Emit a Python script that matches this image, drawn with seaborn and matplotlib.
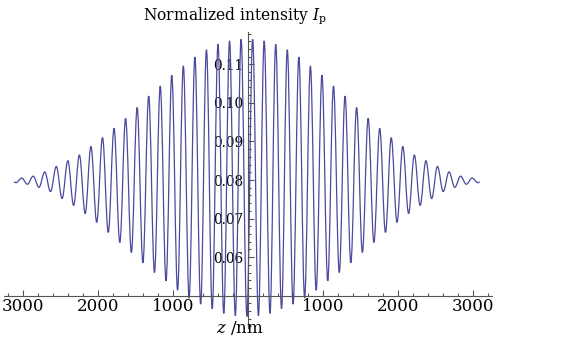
import matplotlib
matplotlib.use("Agg")
import matplotlib.pyplot as plt
import pandas as pd
import seaborn as sns
from matplotlib.ticker import MultipleLocator
from matplotlib.path import Path
from matplotlib.patches import PathPatch

# ---- data (right half, curve is mirror-symmetric about z_center) ----
z_center = -15  # nm, centre of symmetry of the pattern (a trough)
# positions of successive extrema relative to the centre (trough, then alternating peak / trough), nm
z_half = [0, 77, 154, 231, 308, 385, 462, 539, 616, 693, 770, 847, 924, 1001,
          1078, 1155, 1232, 1309, 1386, 1463, 1540, 1617, 1694, 1771, 1848, 1925,
          2002, 2079, 2156, 2233, 2310, 2387, 2464, 2541, 2618, 2695, 2772, 2849,
          2926, 3003, 3080, 3105]
# normalized intensity at those extrema
I_half = [0.0446, 0.1165, 0.0448, 0.1161, 0.0454, 0.1152, 0.0466, 0.1138, 0.0478,
          0.1119, 0.0494, 0.1096, 0.0514, 0.1072, 0.0538, 0.1044, 0.0560, 0.1018,
          0.0585, 0.0988, 0.0612, 0.0960, 0.0638, 0.0934, 0.0664, 0.0910, 0.0690,
          0.0887, 0.0713, 0.0865, 0.0734, 0.0850, 0.0752, 0.0835, 0.0770, 0.0821,
          0.0781, 0.0810, 0.0789, 0.0805, 0.0793, 0.0795]

x_ticks = [-3000, -2000, -1000, 1000, 2000, 3000]
x_tick_labels = ["3000", "2000", "1000", "1000", "2000", "3000"]
y_ticks = [0.06, 0.07, 0.08, 0.09, 0.10, 0.11]
y_tick_labels = ["0.06", "0.07", "0.08", "0.09", "0.10", "0.11"]

z_all = [z_center - v for v in reversed(z_half[1:])] + [z_center + v for v in z_half]
I_all = list(reversed(I_half[1:])) + I_half
df = pd.DataFrame({"z": z_all, "I": I_all})

sns.set_style("white")
plt.rcParams["font.family"] = ["DejaVu Serif"]
plt.rcParams["mathtext.fontset"] = "dejavuserif"

W, H = 564, 344
fig = plt.figure(figsize=(W / 100, H / 100), dpi=100)
fig.patch.set_facecolor("white")
ax = fig.add_axes([4.25 / W, 16 / H, 487.5 / W, 296 / H])
ax.set_facecolor("white")

# smooth oscillation through the read extrema: each half-wave is a cubic Bezier
# with horizontal tangents at the extrema (drawn in data coordinates)
curve_col = "#4a4a9e"
a = 0.364
verts = [(df.z.iloc[0], df.I.iloc[0])]
codes = [Path.MOVETO]
for i in range(len(df) - 1):
    x0, y0 = df.z.iloc[i], df.I.iloc[i]
    x1, y1 = df.z.iloc[i + 1], df.I.iloc[i + 1]
    dx = x1 - x0
    verts += [(x0 + a * dx, y0), (x1 - a * dx, y1), (x1, y1)]
    codes += [Path.CURVE4] * 3
ax.add_patch(PathPatch(Path(verts, codes), facecolor="none", edgecolor=curve_col,
                       linewidth=0.9, transform=ax.transData, zorder=2))

ax.set_xlim(-3250, 3250)
ax.set_ylim(0.0416, 0.1184)

axis_col = "#555555"
sns.despine(ax=ax)
ax.spines["bottom"].set_position(("data", 0.05))
ax.spines["left"].set_position(("data", 0))
for s in ["bottom", "left"]:
    ax.spines[s].set_color(axis_col)
    ax.spines[s].set_linewidth(0.8)
    ax.spines[s].set_zorder(3)

ax.set_xticks(x_ticks)
ax.set_xticklabels(x_tick_labels)
ax.xaxis.set_minor_locator(MultipleLocator(200))
ax.set_yticks(y_ticks)
ax.set_yticklabels(y_tick_labels)
ax.yaxis.set_minor_locator(MultipleLocator(0.002))

ax.tick_params(axis="both", which="both", direction="in", color=axis_col, width=0.8,
               bottom=True, left=True, top=False, right=False)
ax.tick_params(axis="both", which="major", length=4.0)
ax.tick_params(axis="both", which="minor", length=2.2)
ax.tick_params(axis="x", which="major", labelsize=12, pad=2, labelcolor="black")
ax.tick_params(axis="y", which="major", labelsize=9.8, pad=3.5, labelcolor="black")

ax.set_xlabel("")
ax.set_ylabel("")

fig.text(143 / W, 1 - 16 / H, r"Normalized intensity $I_{\mathrm{p}}$",
         ha="left", va="center", fontsize=11.2, color="black")
fig.text(216 / W, 1 - 328 / H, r"$z$ /nm", ha="left", va="center",
         fontsize=12, color="black")

fig.savefig("out.png", dpi=100, facecolor="white")
